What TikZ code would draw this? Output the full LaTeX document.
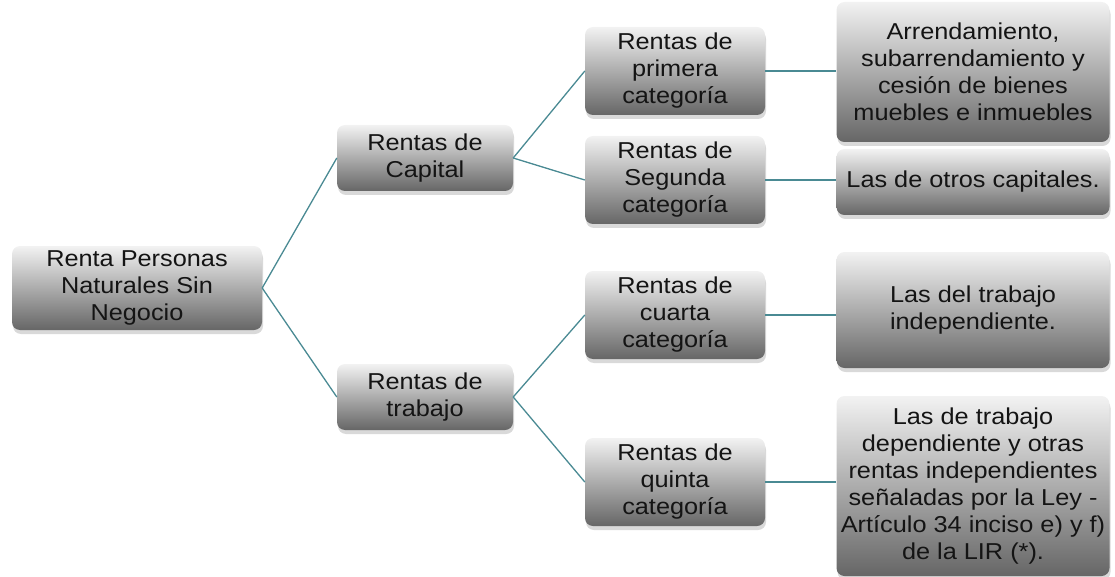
\documentclass[tikz,border=0pt]{standalone}
\usepackage{fontspec}
\setmainfont{Liberation Sans}[FakeStretch=1.1]
\usetikzlibrary{shadows}
\definecolor{ln}{HTML}{4A8A93}
\definecolor{tx}{HTML}{141414}
\begin{document}
\begin{tikzpicture}[x=1pt,y=-1pt,
  box/.style={rectangle, rounded corners=8pt, top color=black!5, middle color=black!22, bottom color=black!60,
    align=center, font=\fontsize{23}{27}\selectfont, text=tx, inner sep=0pt,
    drop shadow={opacity=0.3, shadow xshift=1pt, shadow yshift=-4pt}},
  conn/.style={draw=ln, line width=1.3pt}]
\useasboundingbox (0,0) rectangle (1115,577);
\node[box, minimum width=250pt, minimum height=84pt] (root) at (137,288) {Renta Personas\\Naturales Sin\\Negocio};
\node[box, minimum width=176pt, minimum height=66pt] (cap) at (425,158) {Rentas de\\Capital};
\node[box, minimum width=176pt, minimum height=66pt] (trab) at (425,397) {Rentas de\\trabajo};
\node[box, minimum width=180pt, minimum height=88pt] (prim) at (675,71) {Rentas de\\primera\\categoría};
\node[box, minimum width=180pt, minimum height=88pt] (seg) at (675,180) {Rentas de\\Segunda\\categoría};
\node[box, minimum width=180pt, minimum height=88pt] (cuar) at (675,315) {Rentas de\\cuarta\\categoría};
\node[box, minimum width=180pt, minimum height=88pt] (quin) at (675,482) {Rentas de\\quinta\\categoría};
\node[box, minimum width=273pt, minimum height=140pt] (r1) at (973,72) {Arrendamiento,\\subarrendamiento y\\cesión de bienes\\muebles e inmuebles};
\node[box, minimum width=273pt, minimum height=66pt] (r2) at (973,182) {Las de otros capitales.};
\node[box, minimum width=273pt, minimum height=116pt] (r3) at (973,310) {Las del trabajo\\independiente.};
\node[box, minimum width=273pt, minimum height=180pt] (r4) at (973,486) {Las de trabajo\\dependiente y otras\\rentas independientes\\señaladas por la Ley -\\Artículo 34 inciso e) y f)\\de la LIR (*).};
\draw[conn] (root.east) -- (cap.west);
\draw[conn] (root.east) -- (trab.west);
\draw[conn] (cap.east) -- (prim.west);
\draw[conn] (cap.east) -- (seg.west);
\draw[conn] (trab.east) -- (cuar.west);
\draw[conn] (trab.east) -- (quin.west);
\draw[conn] (prim.east) -- (r1.west |- prim.east);
\draw[conn] (seg.east) -- (r2.west |- seg.east);
\draw[conn] (cuar.east) -- (r3.west |- cuar.east);
\draw[conn] (quin.east) -- (r4.west |- quin.east);
\end{tikzpicture}
\end{document}
